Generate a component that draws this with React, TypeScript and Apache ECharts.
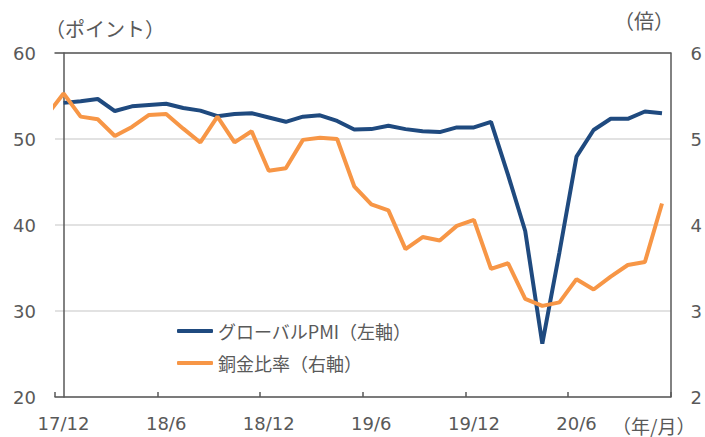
import React, { useEffect, useRef } from "react";
import * as echarts from "echarts";

const months = [
  "17/12", "18/1", "18/2", "18/3", "18/4", "18/5", "18/6", "18/7", "18/8", "18/9", "18/10", "18/11",
  "18/12", "19/1", "19/2", "19/3", "19/4", "19/5", "19/6", "19/7", "19/8", "19/9", "19/10", "19/11",
  "19/12", "20/1", "20/2", "20/3", "20/4", "20/5", "20/6", "20/7", "20/8", "20/9", "20/10", "20/11",
];

const pmi = [
  54.2, 54.4, 54.65, 53.25, 53.8, 53.95, 54.1, 53.6, 53.3, 52.65, 52.9, 53.0,
  52.5, 52.0, 52.6, 52.75, 52.1, 51.1, 51.15, 51.55, 51.15, 50.9, 50.8, 51.35,
  51.35, 52.0, 45.8, 39.3, 26.2, 36.8, 47.95, 51.05, 52.35, 52.35, 53.2, 53.0,
];

// copper/gold ratio for 17/11 (clipped at the plot's left edge)
const copperPrev = 5.27;
const copper = [
  5.53, 5.26, 5.23, 5.035, 5.14, 5.28, 5.29, 5.12, 4.96, 5.26, 4.96, 5.09,
  4.63, 4.66, 4.99, 5.015, 5.0, 4.45, 4.24, 4.17, 3.72, 3.86, 3.82, 3.99,
  4.06, 3.49, 3.555, 3.14, 3.06, 3.1, 3.37, 3.25, 3.4, 3.535, 3.57, 4.25,
];

const leftTicks = { min: 20, max: 60, interval: 10 };
const rightTicks = { min: 2, max: 6, interval: 1 };

const seriesNames = ["グローバルPMI（左軸）", "銅金比率（右軸）"];

const GRAY = "#595959";
const BLUE = "#1F4A7F";
const ORANGE = "#F79646";
const LATIN = "'DejaVu Sans', Verdana, sans-serif";
const CJK = "'Noto Sans CJK JP', 'Noto Sans', sans-serif";

export default function App() {
  const ref = useRef<HTMLDivElement>(null);
  useEffect(() => {
    if (!ref.current) return;
    const chart = echarts.init(ref.current, undefined, { renderer: "svg" });
    const n = months.length;
    chart.setOption({
      animation: false,
      backgroundColor: "#ffffff",
      grid: { left: 55, right: 32, top: 53, bottom: 40, containLabel: false },
      legend: {
        orient: "vertical",
        left: 177,
        top: 322,
        padding: 0,
        itemWidth: 36,
        itemHeight: 4,
        itemGap: 14,
        icon: "roundRect",
        data: seriesNames,
        textStyle: { fontSize: 18, color: GRAY, fontFamily: CJK },
      },
      xAxis: [
        {
          type: "category",
          data: months,
          boundaryGap: true,
          position: "bottom",
          axisLine: { show: true, lineStyle: { color: GRAY, width: 1.5 } },
          axisTick: { show: true, inside: true, length: 5, interval: 5, lineStyle: { color: GRAY, width: 1.5 } },
          axisLabel: { interval: 5, fontSize: 18, color: GRAY, fontFamily: LATIN, margin: 17 },
          splitLine: { show: false },
        },
        {
          type: "value",
          position: "top",
          min: -0.5,
          max: n - 0.5,
          z: 5,
          axisLine: { show: true, onZero: false, lineStyle: { color: GRAY, width: 1.5 } },
          axisTick: { show: false },
          axisLabel: { show: false },
          splitLine: { show: false },
        },
      ],
      yAxis: [
        {
          type: "value",
          position: "left",
          ...leftTicks,
          axisLine: { show: true, lineStyle: { color: GRAY, width: 1.5 } },
          axisTick: { show: false },
          axisLabel: { fontSize: 18, color: GRAY, fontFamily: LATIN, margin: 19 },
          splitLine: { show: true, lineStyle: { color: "#D9D9D9", width: 1.5 } },
        },
        {
          type: "value",
          position: "right",
          ...rightTicks,
          z: 5,
          axisLine: { show: true, lineStyle: { color: GRAY, width: 1.5 } },
          axisTick: { show: false },
          axisLabel: { fontSize: 18, color: GRAY, fontFamily: LATIN, margin: 20 },
          splitLine: { show: false },
        },
      ],
      series: [
        {
          name: seriesNames[0],
          type: "line",
          xAxisIndex: 1,
          yAxisIndex: 0,
          symbol: "none",
          clip: true,
          lineStyle: { color: BLUE, width: 4 },
          itemStyle: { color: BLUE },
          data: pmi.map((v, i) => [i, v]),
          z: 2,
        },
        {
          name: seriesNames[1],
          type: "line",
          xAxisIndex: 1,
          yAxisIndex: 1,
          symbol: "none",
          clip: true,
          lineStyle: { color: ORANGE, width: 4 },
          itemStyle: { color: ORANGE },
          data: [[-1, copperPrev], ...copper.map((v, i) => [i, v])],
          z: 3,
        },
      ],
      graphic: [
        {
          type: "text",
          left: 45,
          top: 18,
          style: { text: "（ポイント）", fontSize: 20, fill: GRAY, fontFamily: CJK },
        },
        {
          type: "text",
          left: 614,
          top: 10,
          style: { text: "（倍）", fontSize: 20, fill: GRAY, fontFamily: CJK },
        },
        {
          type: "text",
          left: 612,
          top: 416,
          style: { text: "（年/月）", fontSize: 19, fill: GRAY, fontFamily: CJK },
        },
      ],
    });
    return () => chart.dispose();
  }, []);
  return <div ref={ref} style={{ width: 705, height: 437, position: "absolute", left: 0, top: 0 }} />;
}
